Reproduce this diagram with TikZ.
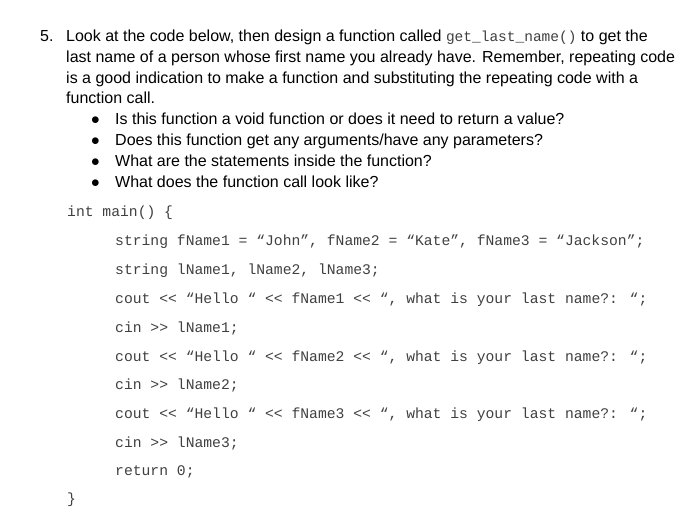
\documentclass[tikz,border=0pt]{standalone}
\usepackage{fontspec}
\setmainfont{Liberation Sans}
\newfontfamily\codefont{Liberation Mono}
\definecolor{codegray}{HTML}{404040}
\begin{document}
\begin{tikzpicture}[x=1pt,y=-1pt,
  txt/.style={anchor=base west,inner sep=0pt,font=\fontsize{16}{19}\selectfont},
  code/.style={anchor=base west,inner sep=0pt,text=codegray,font=\codefont\fontsize{14.7}{17}\selectfont}]
\useasboundingbox (0,0) rectangle (700,525);
\newcommand{\cf}[1]{{\codefont\fontsize{14.5}{17}\selectfont\color{codegray}#1}}
\node[txt] (n5) at (40,41) {5.};
\node[txt] (l1) at (66,41) {Look at the code below, then design a function called \cf{get\_last\_name()} to get the};
\node[txt] (l2) at (66,62) {last name of a person whose first name you already have. Remember, repeating code};
\node[txt] (l3) at (66,83) {is a good indication to make a function and substituting the repeating code with a};
\node[txt] (l4) at (66,103) {function call.};
\foreach \y/\t [count=\i] in {124/{Is this function a void function or does it need to return a value?},
  145/{Does this function get any arguments/have any parameters?},
  166/{What are the statements inside the function?},
  187/{What does the function call look like?}}{
  \node[txt] (b\i) at (91,\y) {$\bullet$};
  \node[txt] (t\i) at (115,\y) {\t};
}
\node[code] (c0) at (67,216) {int main() \{};
\node[code] (c1) at (115,245) {string fName1 = “John”, fName2 = “Kate”, fName3 = “Jackson”;};
\node[code] (c2) at (115,274) {string lName1, lName2, lName3;};
\node[code] (c3) at (115,303) {cout << “Hello “ << fName1 << “, what is your last name?: “;};
\node[code] (c4) at (115,332) {cin >> lName1;};
\node[code] (c5) at (115,361) {cout << “Hello “ << fName2 << “, what is your last name?: “;};
\node[code] (c6) at (115,389) {cin >> lName2;};
\node[code] (c7) at (115,418) {cout << “Hello “ << fName3 << “, what is your last name?: “;};
\node[code] (c8) at (115,447) {cin >> lName3;};
\node[code] (c9) at (115,475) {return 0;};
\node[code] (c10) at (67,503) {\}};
\end{tikzpicture}
\end{document}
